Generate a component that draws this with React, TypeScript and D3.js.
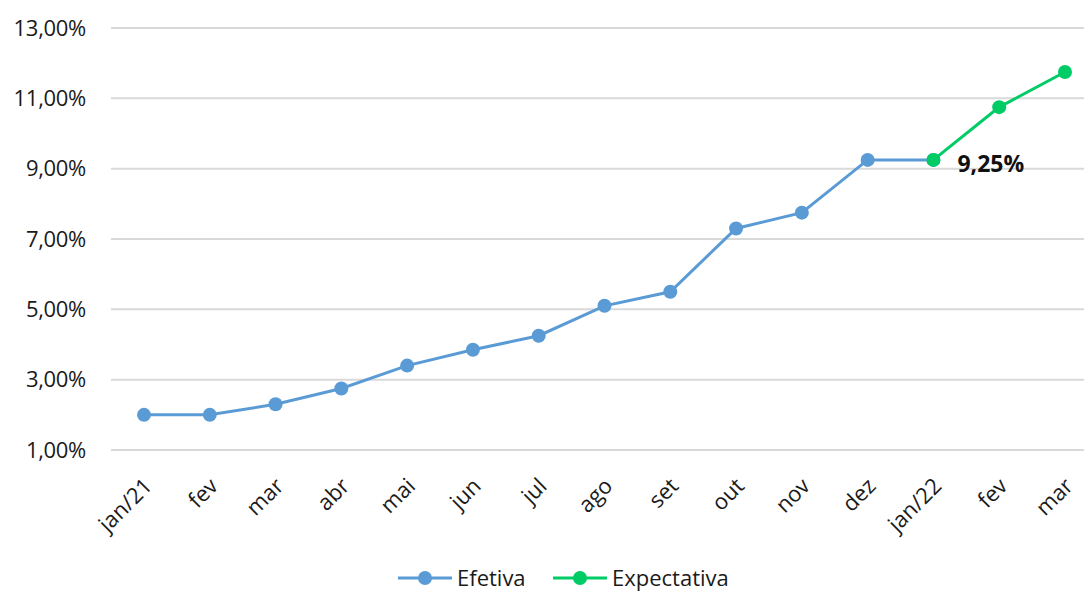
import React from "react";
import * as d3 from "d3";

const categories = ["jan/21","fev","mar","abr","mai","jun","jul","ago","set","out","nov","dez","jan/22","fev ","mar "];
const efetiva = [2.0, 2.0, 2.3, 2.75, 3.4, 3.85, 4.25, 5.1, 5.5, 7.3, 7.75, 9.25, 9.25];
const expectativa = [9.25, 10.75, 11.75];
const expectativaStart = 12;
const yTicks = [1, 3, 5, 7, 9, 11, 13];
const labelText = "9,25%";

const W = 1084, H = 592;
const BLUE = "#5B9BD5";
const GREEN = "#00CC66";
const FONT = "'Open Sans', 'Noto Sans', sans-serif";

export default function App() {
  const x = d3.scalePoint<string>().domain(categories).range([144, 1065]);
  const y = d3.scaleLinear().domain([1, 13]).range([450, 28]);
  const fmt = (v: number) => v.toFixed(2).replace(".", ",") + "%";
  const line = d3.line<[number, number]>().x(d => d[0]).y(d => d[1]);
  const effPts: [number, number][] = efetiva.map((v, i) => [x(categories[i])!, y(v)]);
  const expPts: [number, number][] = expectativa.map((v, i) => [x(categories[i + expectativaStart])!, y(v)]);
  const labelPt = expPts[0];

  return (
    <svg width={W} height={H} style={{ position: "absolute", left: 0, top: 0, background: "#fff" }} fontFamily={FONT}>
      {yTicks.map(t => (
        <g key={t}>
          <line x1={111} x2={W} y1={y(t)} y2={y(t)} stroke="#d9d9d9" strokeWidth={2} />
          <text x={86} y={y(t)} dy="0.35em" textAnchor="end" fontSize={22} fill="#1a1a1a" letterSpacing={-0.3}>{fmt(t)}</text>
        </g>
      ))}
      {categories.map(c => (
        <text key={c} transform={`translate(${x(c)! + 4},${482}) rotate(-45)`} textAnchor="end" dy="0.35em" fontSize={22} fill="#1a1a1a">{c.trim()}</text>
      ))}
      <path d={line(effPts)!} fill="none" stroke={BLUE} strokeWidth={3} />
      {effPts.map((p, i) => <circle key={"e" + i} cx={p[0]} cy={p[1]} r={7} fill={BLUE} />)}
      <path d={line(expPts)!} fill="none" stroke={GREEN} strokeWidth={3} />
      {expPts.map((p, i) => <circle key={"x" + i} cx={p[0]} cy={p[1]} r={7} fill={GREEN} />)}
      <text x={labelPt[0] + 24} y={labelPt[1] + 12} fontSize={23} fontWeight="bold" fill="#111">{labelText}</text>
      <g transform="translate(0,578)">
        <line x1={398} x2={452} y1={0} y2={0} stroke={BLUE} strokeWidth={3} />
        <circle cx={425} cy={0} r={7} fill={BLUE} />
        <text x={457} y={0} dy="0.35em" fontSize={22} fill="#1a1a1a">Efetiva</text>
        <line x1={553} x2={607} y1={0} y2={0} stroke={GREEN} strokeWidth={3} />
        <circle cx={580} cy={0} r={7} fill={GREEN} />
        <text x={612} y={0} dy="0.35em" fontSize={22} fill="#1a1a1a">Expectativa</text>
      </g>
    </svg>
  );
}
